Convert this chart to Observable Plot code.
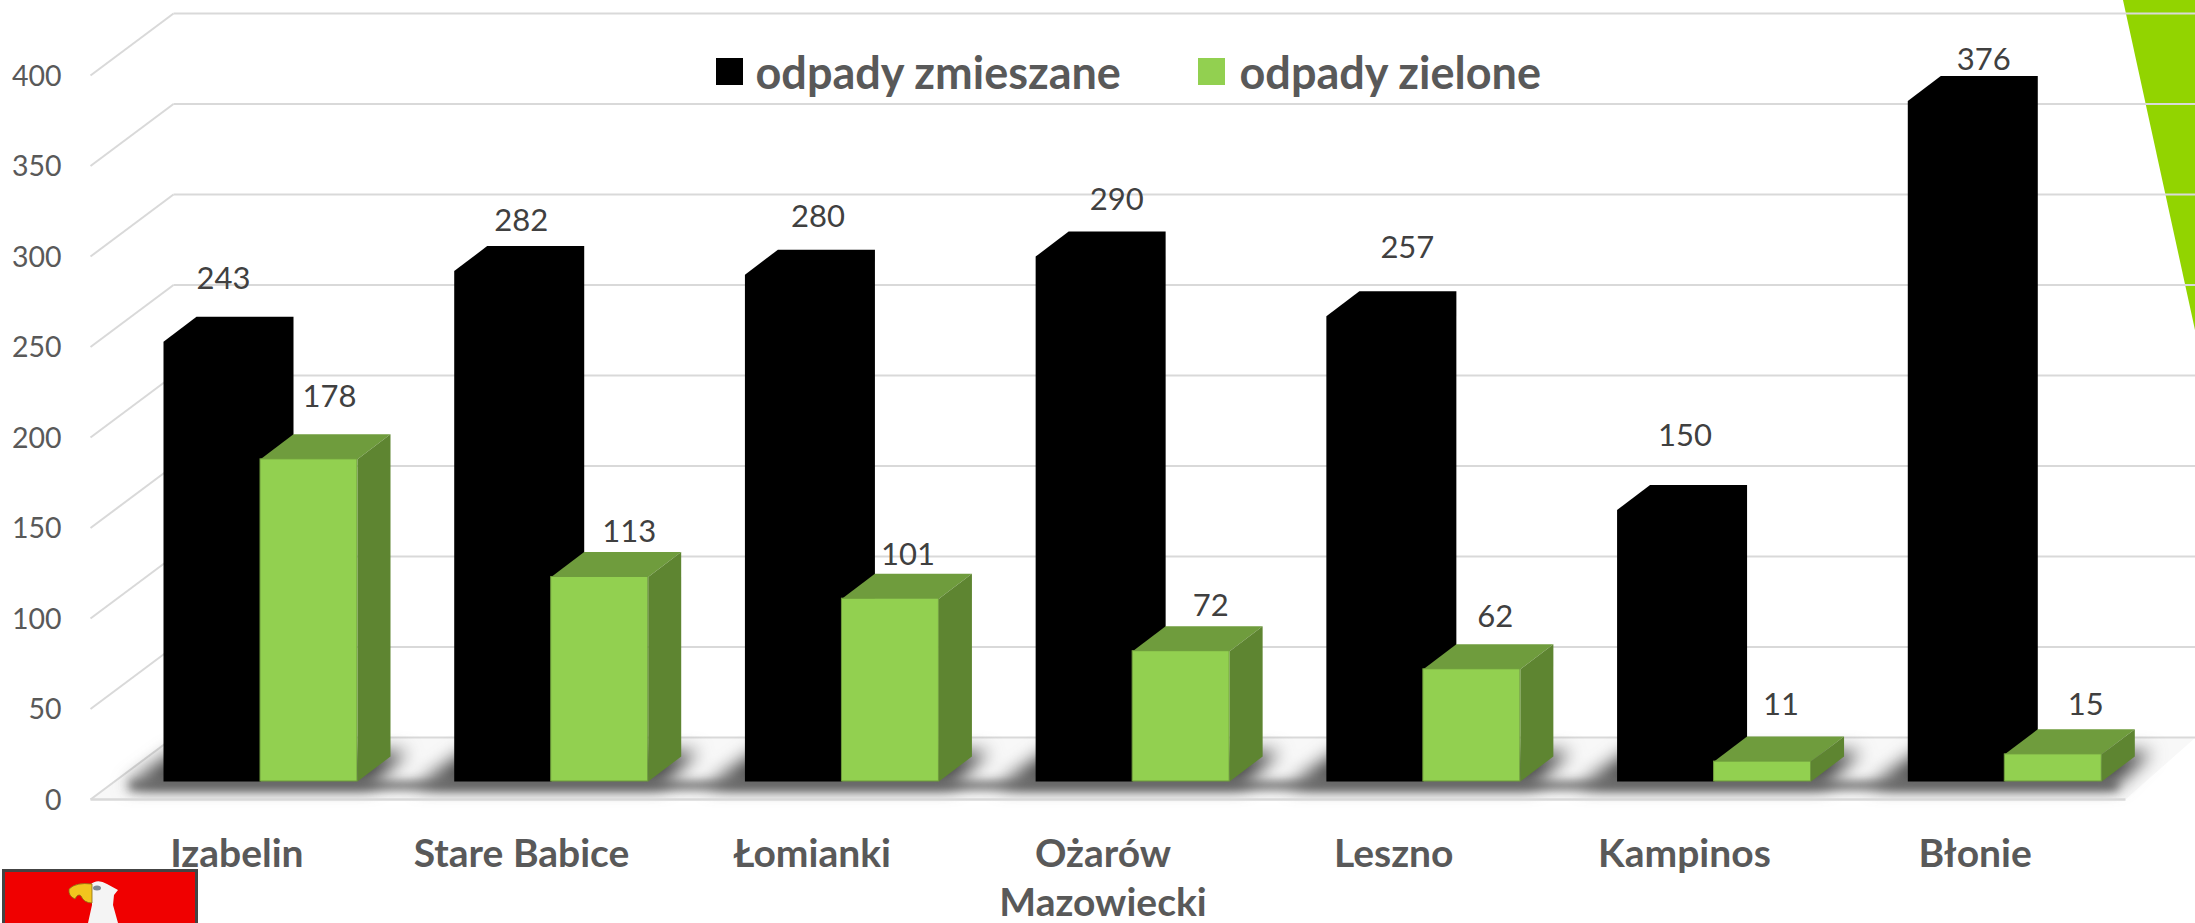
<!DOCTYPE html>
<html lang="pl">
<head>
<meta charset="utf-8">
<script src="https://cdn.jsdelivr.net/npm/d3@7"></script>
<script src="https://cdn.jsdelivr.net/npm/@observablehq/plot@0.6"></script>
<style>
html,body{margin:0;padding:0;background:#fff;overflow:hidden}
svg{display:block}
</style>
</head>
<body>
<div id="chart"></div>
<script>
const categories = ["Izabelin","Stare Babice","Łomianki","Ożarów\nMazowiecki","Leszno","Kampinos","Błonie"];
const mixedWaste = [243,282,280,290,257,150,376];
const greenWaste = [178,113,101,72,62,11,15];
const seriesNames = ["odpady zmieszane","odpady zielone"];
const yTicks = [0,50,100,150,200,250,300,350,400];

// label nudges in px relative to the back-centre of each bar's top, as in the source chart
const mixedLabelShift = [[-5,38],[2,25],[8,33],[16,32],[16,43],[3,49],[11,16]];
const greenLabelShift = [[4,37],[13,20],[1,19],[13,20],[7,27],[2,32],[16,24]];
const categoryShift = [1,-5,-5,-5,-5,-5,-5];

// layout
const W = 2195, H = 923, L = 90, R = 2125, T = 75, B = 799;
const pxX = (R - L) / 7, pxY = (B - T) / 400;
const ux = p => p / pxX, uy = p => p / pxY;      // pixel lengths to data units
const absX = p => (p - L) / pxX, absY = p => (B - p) / pxY; // absolute pixels to data

const BLACK = "#000", FRONT = "#92D050", TOP = "#6F9C3D", SIDE = "#5E8531",
      GRID = "#D9D9D9", TICK = "#595959", LABEL = "#404040";
const FONT = "Lato, Carlito, sans-serif";

const lift = uy(18), dX = ux(33), dY = uy(25), wallX = ux(83), wallY = uy(62);
const barW = ux(97), barStart = ux(73);

const rows = categories.map((c, i) => ({c, i, a: mixedWaste[i], b: greenWaste[i]}));
const poly = (id, pts) => pts.map(([x, y]) => ({id, x, y}));

const mixedShapes = rows.flatMap(({i, a}) => {
  const x0 = i + barStart, x1 = x0 + barW, t = a + lift;
  return poly(i, [[x0,lift],[x0,t],[x0+dX,t+dY],[x1+dX,t+dY],[x1+dX,lift+dY],[x1,lift]]);
});
const greenTops = rows.flatMap(({i, b}) => {
  const x0 = i + barStart + barW, x1 = x0 + barW, t = b + lift;
  return poly(i, [[x0,t],[x0+dX,t+dY],[x1+dX,t+dY],[x1,t]]);
});
const greenSides = rows.flatMap(({i, b}) => {
  const x0 = i + barStart + barW, x1 = x0 + barW, t = b + lift;
  return poly(i, [[x1,lift],[x1,t],[x1+dX,t+dY],[x1+dX,lift+dY]]);
});
const shadows = rows.flatMap(({i}) => {
  const x0 = i + barStart;
  return poly(i, [[x0-ux(38),absY(786)],[x0+ux(10),absY(751)],[x0+ux(244),absY(751)],[x0+ux(208),absY(786)]]);
});
const shadowBand = poly(0, [[barStart-ux(34),absY(790)],[barStart-ux(34),absY(780)],[6+barStart+ux(210),absY(780)],[6+barStart+ux(210),absY(790)]]);
const floor = poly(0, [[0,0],[wallX,wallY],[absX(W),wallY],[7,0]]);

const ornament = () => {
  const g = d3.create("svg:g");
  g.append("path").attr("d", "M2123 0L2195 330L2195 0Z").attr("fill", "#92D400");
  return g.node();
};
const crest = () => {
  const g = d3.create("svg:g");
  g.append("rect").attr("x", 3.5).attr("y", 870.5).attr("width", 193).attr("height", 60)
    .attr("fill", "#F00000").attr("stroke", "#444").attr("stroke-width", 3);
  g.append("path").attr("d", "M90 885Q97 878 107 884L118 890L114 895L113 905L118 923L88 923L92 905L92 895Z").attr("fill", "#F4F4F4");
  g.append("path").attr("d", "M92 884Q76 882 69 889Q68 896 75 899Q78 893 81 896Q84 903 92 903Z")
    .attr("fill", "#F2C51E").attr("stroke", "#8A6D10").attr("stroke-width", 0.8);
  g.append("ellipse").attr("cx", 97).attr("cy", 888).attr("rx", 4).attr("ry", 2.5).attr("fill", "#7D8894");
  return g.node();
};

const plot = Plot.plot({
  width: W, height: H,
  marginLeft: L, marginRight: W - R, marginTop: T, marginBottom: H - B,
  x: {domain: [0, 7], axis: null},
  y: {domain: [0, 400], axis: null},
  style: {fontFamily: FONT, background: "#fff"},
  marks: [
    ornament,
    Plot.line(floor, {x: "x", y: "y", z: "id", fill: "#F8F8F8", stroke: "none", curve: "linear-closed"}),
    // side-wall and back-wall gridlines
    Plot.link(yTicks, {x1: 0, x2: wallX, y1: d => d, y2: d => d + wallY, stroke: GRID, strokeWidth: 2}),
    Plot.link(yTicks, {x1: wallX, x2: absX(W), y1: d => d + wallY, y2: d => d + wallY, stroke: GRID, strokeWidth: 2.2}),
    Plot.line(shadowBand, {x: "x", y: "y", z: "id", fill: "#777", stroke: "none", curve: "linear-closed", imageFilter: "blur(5px)"}),
    Plot.line(shadows, {x: "x", y: "y", z: "id", fill: "#4A4A4A", stroke: "none", curve: "linear-closed", imageFilter: "blur(9px)"}),
    Plot.link([0], {x1: 0, x2: 7, y1: 0, y2: 0, stroke: GRID, strokeWidth: 2.5}),
    Plot.axisY({ticks: yTicks, tickSize: 0, tickPadding: 29, fontSize: 28.5, color: TICK, dy: 1, label: null}),
    // mixed-waste bars: one silhouette, every face black
    Plot.line(mixedShapes, {x: "x", y: "y", z: "id", fill: BLACK, stroke: "none", curve: "linear-closed"}),
    // green-waste bars
    Plot.line(greenTops, {x: "x", y: "y", z: "id", fill: TOP, stroke: "none", curve: "linear-closed"}),
    Plot.line(greenSides, {x: "x", y: "y", z: "id", fill: SIDE, stroke: "none", curve: "linear-closed"}),
    Plot.rect(rows, {
      x1: d => d.i + barStart + barW, x2: d => d.i + barStart + 2 * barW,
      y1: lift, y2: d => d.b + lift, fill: FRONT, stroke: TOP, strokeWidth: 1
    }),
    // value labels
    Plot.text(rows, {
      x: d => d.i + barStart + barW / 2 + dX / 2 + ux(mixedLabelShift[d.i][0]),
      y: d => d.a + lift + dY + uy(mixedLabelShift[d.i][1]),
      text: d => String(d.a), fontSize: 31, fill: LABEL, lineAnchor: "middle"
    }),
    Plot.text(rows, {
      x: d => d.i + barStart + 1.5 * barW + dX / 2 + ux(greenLabelShift[d.i][0]),
      y: d => d.b + lift + dY + uy(greenLabelShift[d.i][1]),
      text: d => String(d.b), fontSize: 31, fill: LABEL, lineAnchor: "middle"
    }),
    // category labels
    Plot.text(rows, {
      x: d => d.i + 0.5 + ux(categoryShift[d.i]), y: 0, dy: 33, text: "c", lineAnchor: "top", lineHeight: 1.25,
      fontSize: 39, fontWeight: 700, fill: TICK
    }),
    // legend
    Plot.rect([0, 1], {
      x1: i => absX([716, 1198][i]), x2: i => absX([743, 1225][i]),
      y1: absY(85), y2: absY(58), fill: i => [BLACK, FRONT][i]
    }),
    Plot.text(seriesNames, {
      x: (d, i) => absX([755, 1239][i]), y: absY(74), text: d => d,
      textAnchor: "start", lineAnchor: "middle", fontSize: 45, fontWeight: 700, fill: TICK
    }),
    crest
  ]
});
document.getElementById("chart").append(plot);
</script>
</body>
</html>
